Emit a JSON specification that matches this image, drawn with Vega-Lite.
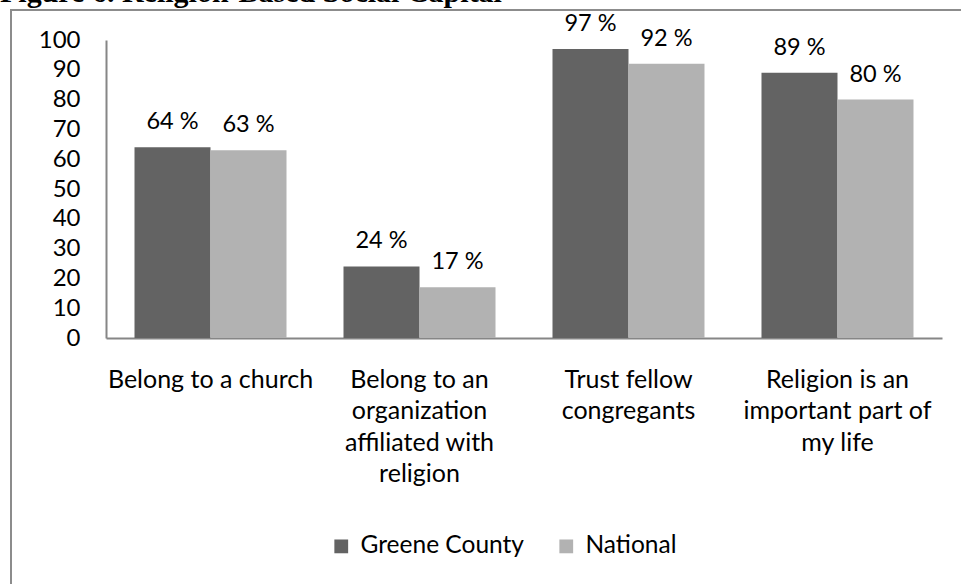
{
  "$schema": "https://vega.github.io/schema/vega-lite/v6.json",
  "width": 960,
  "height": 600,
  "autosize": {"type": "none"},
  "padding": {"left": 11, "top": 10, "right": 0, "bottom": 0},
  "background": "white",
  "title": {
    "text": "Figure 6. Religion-Based Social Capital",
    "anchor": "start",
    "frame": "group",
    "font": "Liberation Serif",
    "fontSize": 30,
    "fontWeight": "bold",
    "color": "black",
    "baseline": "alphabetic",
    "offset": 0,
    "dx": -11,
    "dy": 22
  },
  "config": {
    "view": {"stroke": "#8c8c8c", "strokeWidth": 2},
    "font": "Lato",
    "axis": {"grid": false, "ticks": false, "tickSize": 0, "domainColor": "#868686", "domainWidth": 2, "labelColor": "black", "labelFont": "Lato", "labelFontSize": 23, "labelLimit": 0, "title": null}
  },
  "data": {
    "values": [
      {"category": "Belong to a church", "series": "Greene County", "value": 64},
      {"category": "Belong to a church", "series": "National", "value": 63},
      {"category": "Belong to an organization affiliated with religion", "series": "Greene County", "value": 24},
      {"category": "Belong to an organization affiliated with religion", "series": "National", "value": 17},
      {"category": "Trust fellow congregants", "series": "Greene County", "value": 97},
      {"category": "Trust fellow congregants", "series": "National", "value": 92},
      {"category": "Religion is an important part of my life", "series": "Greene County", "value": 89},
      {"category": "Religion is an important part of my life", "series": "National", "value": 80}
    ]
  },
  "transform": [{"calculate": "datum.value + ' %'", "as": "label"}],
  "encoding": {
    "x": {
      "field": "category",
      "type": "nominal",
      "sort": null,
      "scale": {"range": [95, 931], "paddingInner": 0.2727, "paddingOuter": 0.1364},
      "axis": {
        "orient": "bottom",
        "offset": -272,
        "labelAngle": 0,
        "labelPadding": 49,
        "labelBaseline": "alphabetic",
        "labelFontSize": 25,
        "labelLineHeight": 31.5,
        "labelExpr": "datum.value == 'Belong to an organization affiliated with religion' ? ['Belong to an','organization','affiliated with','religion'] : datum.value == 'Trust fellow congregants' ? ['Trust fellow','congregants'] : datum.value == 'Religion is an important part of my life' ? ['Religion is an','important part of','my life'] : datum.label"
      }
    },
    "xOffset": {"field": "series", "type": "nominal", "scale": {"paddingInner": 0, "paddingOuter": 0}},
    "y": {
      "field": "value",
      "type": "quantitative",
      "scale": {"domain": [0, 100], "range": [328, 30], "nice": false},
      "axis": {"orient": "left", "offset": -95, "values": [0,10,20,30,40,50,60,70,80,90,100], "labelPadding": 26, "labelFontSize": 24}
    }
  },
  "layer": [
    {
      "mark": {"type": "bar"},
      "encoding": {
        "color": {
          "field": "series",
          "type": "nominal",
          "scale": {"domain": ["Greene County", "National"], "range": ["#636363", "#b2b2b2"]},
          "legend": {
            "title": null,
            "orient": "none",
            "direction": "horizontal",
            "legendX": 318,
            "legendY": 524,
            "symbolType": "square",
            "symbolSize": 190,
            "symbolStrokeWidth": 0,
            "labelFont": "Lato",
            "labelFontSize": 24.5,
            "labelColor": "black",
            "labelOffset": 7,
            "labelLimit": 0,
            "columnPadding": 30
          }
        }
      }
    },
    {
      "mark": {"type": "text", "baseline": "alphabetic", "dy": -18, "fontSize": 23.5, "font": "Lato", "color": "black"},
      "encoding": {"text": {"field": "label"}}
    }
  ]
}
